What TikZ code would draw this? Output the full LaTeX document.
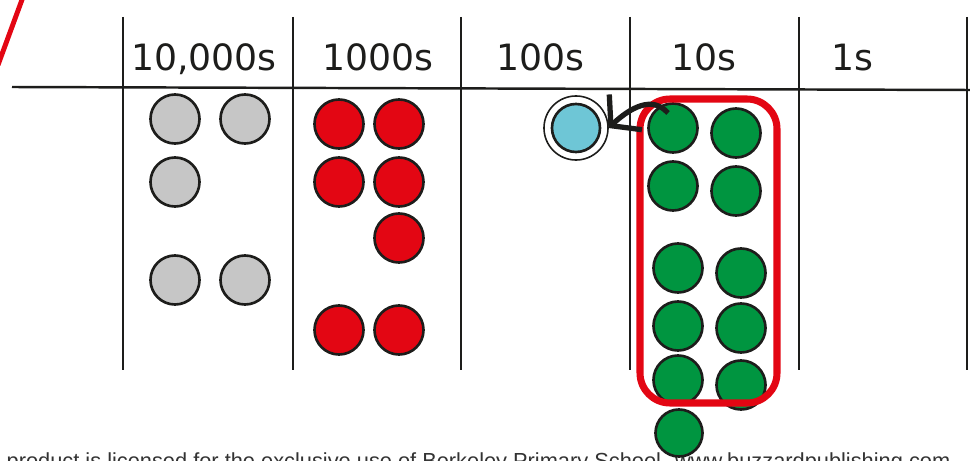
\documentclass[tikz,border=0pt]{standalone}
\usepackage{fontspec}
\setmainfont{DejaVu Sans}
\newfontfamily\notefont{Liberation Sans}
\usepackage{xcolor}
\usepackage{tikz}
\usetikzlibrary{arrows.meta,positioning,calc}
\definecolor{counterline}{HTML}{1D1D1B}
\definecolor{greycounter}{HTML}{C6C6C6}
\definecolor{redcounter}{HTML}{E30613}
\definecolor{greencounter}{HTML}{009540}
\definecolor{bluecounter}{HTML}{6EC6D6}
\tikzset{
  counter/.style={circle,draw=counterline,line width=0.75pt,inner sep=0pt,minimum size=0.49cm},
  tenthou/.style={counter,fill=greycounter},
  thou/.style={counter,fill=redcounter},
  hundc/.style={counter,fill=bluecounter,minimum size=0.48cm},
  tenc/.style={counter,fill=greencounter},
  ringmark/.style={circle,draw=counterline,line width=0.45pt,inner sep=0pt,minimum size=0.64cm},
  gridline/.style={draw=counterline,line width=0.6pt},
  colhead/.style={anchor=base,font=\fontsize{10.3pt}{12pt}\selectfont,text=counterline,inner sep=0pt},
  exchangearrow/.style={-{Straight Barb[length=2mm,width=4.8mm,line width=1.5pt]},line width=1.5pt,draw=counterline},
  groupbox/.style={draw=redcounter,line width=2pt,rounded corners=0.3cm}
}

\begin{document}
\begin{tikzpicture}[x=0.01cm,y=-0.01cm]
  \useasboundingbox (0,0) rectangle (970,461);
  \clip (0,0) rectangle (970,461);
  % place value grid
  \draw[redcounter,line width=1.4pt] (23,-3) -- (-2,65);
  \draw[gridline,line width=0.7pt] (12,87) -- (970,90);
  \draw[gridline] (123,17) -- (123,370);
  \draw[gridline] (293,17) -- (293,370);
  \draw[gridline] (461,17) -- (461,370);
  \draw[gridline] (630,17) -- (630,370);
  \draw[gridline] (799,17) -- (799,370);
  \draw[gridline] (967,17) -- (967,370);
  \node[colhead] (h10000) at (204,71) {10,000s};
  \node[colhead] (h1000) at (378,71) {1000s};
  \node[colhead] (h100) at (540,71) {100s};
  \node[colhead] (h10) at (704,71) {10s};
  \node[colhead] (h1) at (852,71) {1s};

  % ten thousands
  \node[tenthou] (g1) at (175,119) {};
  \node[tenthou] (g2) at (245,119) {};
  \node[tenthou] (g3) at (175,182) {};
  \node[tenthou] (g4) at (175,280) {};
  \node[tenthou] (g5) at (245,280) {};
  % thousands
  \node[thou] (r1) at (339,124) {};
  \node[thou] (r2) at (399,124) {};
  \node[thou] (r3) at (339,182) {};
  \node[thou] (r4) at (399,182) {};
  \node[thou] (r5) at (399,238) {};
  \node[thou] (r6) at (339,330) {};
  \node[thou] (r7) at (399,330) {};
  % hundreds
  \node[hundc] (hund) at (576,128) {};
  \node[ringmark] (ring) at (hund) {};
  % tens
  \node[tenc] (t1) at (673,128) {};
  \node[tenc] (t2) at (736,133) {};
  \node[tenc] (t3) at (673,186) {};
  \node[tenc] (t4) at (736,191) {};
  \node[tenc] (t5) at (678,268) {};
  \node[tenc] (t6) at (741,273) {};
  \node[tenc] (t7) at (678,326) {};
  \node[tenc] (t8) at (741,328) {};
  \node[tenc] (t9) at (678,380) {};
  \node[tenc] (t10) at (741,385) {};
  \draw[groupbox] (640,99) rectangle (777,403);

  \coordinate (takefrom) at (668,113);
  \draw[exchangearrow] (takefrom) .. controls (652,95) and (630,108) .. ([xshift=2]hund.east);

  \node[anchor=base west,inner sep=0pt,font=\notefont\fontsize{6.2pt}{7pt}\selectfont,text=black!80] (licence) at (6,468)
    {product is licensed for the exclusive use of Berkeley Primary School. www.buzzardpublishing.com};
  \node[tenc,minimum size=0.47cm] (t11) at (679,433) {};
\end{tikzpicture}
\end{document}
